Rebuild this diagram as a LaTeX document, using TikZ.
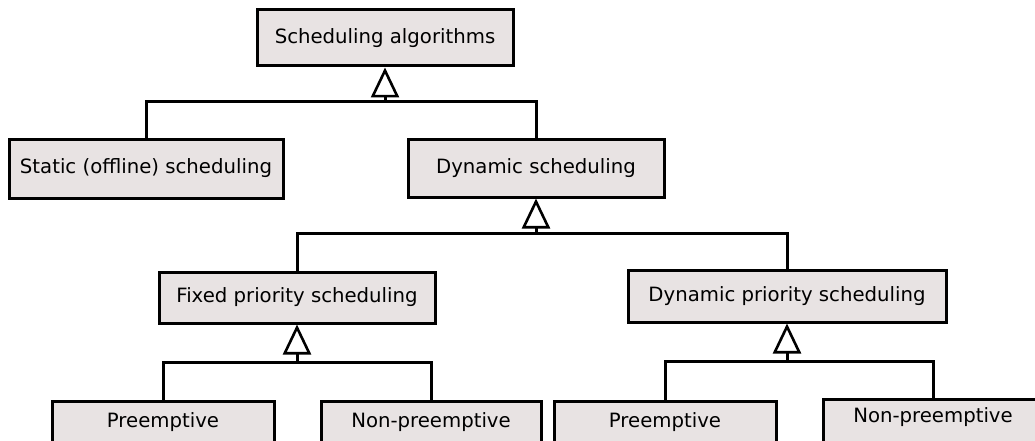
\documentclass[tikz,border=0pt]{standalone}
\usepackage{fontspec}
\setmainfont{DejaVu Sans}
\usetikzlibrary{arrows.meta}
\definecolor{boxfill}{HTML}{E8E3E3}

\tikzset{
  cls/.style={draw, fill=boxfill, line width=3pt, inner sep=0pt,
    font=\fontsize{19.7}{24}\selectfont},
  leaf/.style={cls, anchor=north, minimum height=56pt, text depth=18pt},
  link/.style={line width=3pt},
  gen/.style={link, -{Triangle[open, length=30pt, width=28pt, line width=2.6pt]}}
}

\begin{document}
\begin{tikzpicture}[x=1pt, y=-1pt]
   \useasboundingbox (0,0) rectangle (1035,441);
   \clip (0,0) rectangle (1035,441);

   % top level
   \node[cls, minimum width=256pt, minimum height=56pt] (root) at (385,38) {Scheduling algorithms};
   \node[cls, minimum width=274pt, minimum height=59pt] (static) at (146,168.5) {Static (offline) scheduling};
   \node[cls, minimum width=256pt, minimum height=58pt] (dynamic) at (536,168) {Dynamic scheduling};

   % second level
   \node[cls, minimum width=276pt, minimum height=51pt] (fixed) at (297,297.5) {Fixed priority scheduling};
   \node[cls, minimum width=318pt, minimum height=52pt] (dynprio) at (787,296) {Dynamic priority scheduling};

   % leaves (cut off by the page edge)
   \node[leaf, minimum width=222pt] (fixpre) at (163,400) {Preemptive};
   \node[leaf, minimum width=220pt] (fixnon) at (431,400) {Non-preemptive};
   \node[leaf, minimum width=222pt] (dynpre) at (665,400) {Preemptive};
   \node[leaf, minimum width=220pt, text depth=24pt] (dynnon) at (933,398) {Non-preemptive};

   \coordinate (j1) at (385,102);
   \coordinate (j2) at (536,233);
   \coordinate (j3) at (297,362);
   \coordinate (j4) at (787,361);

   \draw[gen] (j1) -- (root.south);
   \draw[link] (static.north) |- (j1) -| (dynamic.north);

   \draw[gen] (j2) -- (dynamic.south);
   \draw[link] (fixed.north) |- (j2) -| (dynprio.north);

   \draw[gen] (j3) -- (fixed.south);
   \draw[link] (fixpre.north) |- (j3) -| (fixnon.north);

   \draw[gen] (j4) -- (dynprio.south);
   \draw[link] (dynpre.north) |- (j4) -| (dynnon.north);
\end{tikzpicture}
\end{document}
